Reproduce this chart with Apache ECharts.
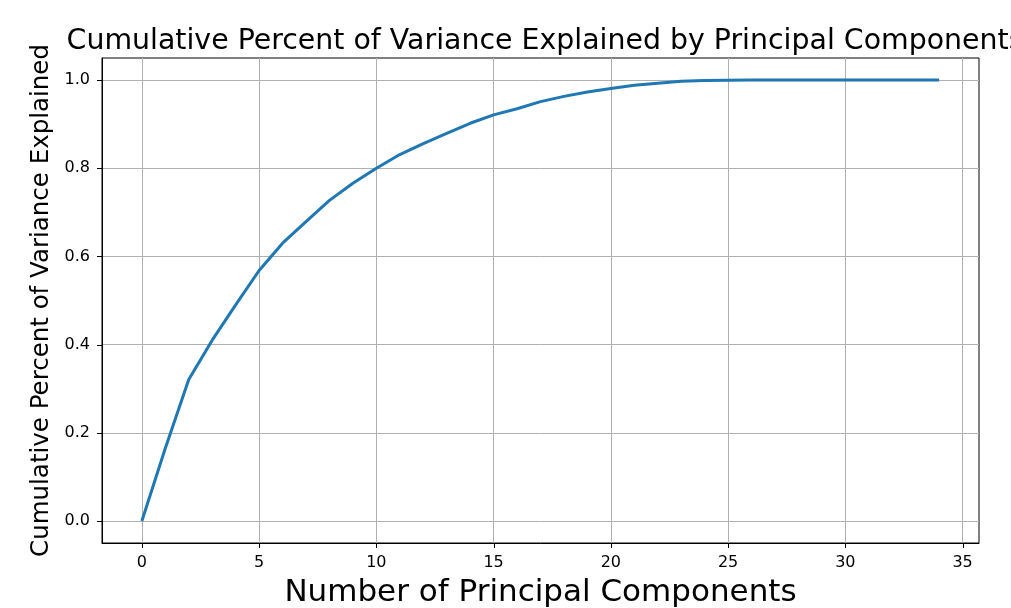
<!DOCTYPE html>
<html>
<head>
<meta charset="utf-8">
<script src="https://cdn.jsdelivr.net/npm/echarts@6/dist/echarts.min.js"></script>
<style>
  html, body { margin: 0; padding: 0; background: #fff; }
  #chart { width: 1011px; height: 608px; }
</style>
</head>
<body>
<div id="chart"></div>
<script>
// number of principal components (x) and cumulative explained variance (y)
const components = [0, 1, 2, 3, 4, 5, 6, 7, 8, 9, 10, 11, 12, 13, 14, 15, 16, 17,
  18, 19, 20, 21, 22, 23, 24, 25, 26, 27, 28, 29, 30, 31, 32, 33, 34]
const cumulativeVariance = [0, 0.165, 0.321, 0.41, 0.49, 0.568, 0.63, 0.679, 0.727,
  0.766, 0.80, 0.831, 0.856, 0.879, 0.902, 0.921, 0.935, 0.951, 0.963, 0.973, 0.981,
  0.988, 0.993, 0.997, 0.999, 0.9995, 1.0, 1.0, 1.0, 1.0, 1.0, 1.0, 1.0, 1.0, 1.0]
const xTicks = [0, 5, 10, 15, 20, 25, 30, 35]
const yTicks = [0, 0.2, 0.4, 0.6, 0.8, 1.0]

const xMin = -1.7
const xMax = 35.7
const yMin = -0.05
const yMax = 1.05
const tickLen = 5

const font = 'DejaVu Sans'
const chart = echarts.init(document.getElementById('chart'))

// outward tick marks, placed through the axis scales
const crisp = v => Math.round(v) + 0.5
const xTickItem = (params, api) => {
  const p = api.coord([api.value(0), yMin])
  const x = crisp(p[0])
  return {
    type: 'line',
    shape: { x1: x, y1: p[1], x2: x, y2: p[1] + tickLen },
    style: { stroke: '#000', lineWidth: 1 }
  }
}
const yTickItem = (params, api) => {
  const p = api.coord([xMin, api.value(1)])
  const y = crisp(p[1])
  return {
    type: 'line',
    shape: { x1: p[0] - tickLen, y1: y, x2: p[0], y2: y },
    style: { stroke: '#000', lineWidth: 1 }
  }
}

const option = {
  backgroundColor: '#fff',
  animation: false,
  title: {
    text: 'Cumulative Percent of Variance Explained by Principal Components',
    left: 540,
    textAlign: 'center',
    top: 23,
    textStyle: { fontFamily: font, fontSize: 28.4, fontWeight: 'normal', color: '#000' }
  },
  grid: {
    left: 102,
    right: 32,
    top: 58,
    bottom: 65,
    outerBoundsMode: 'none',
    show: true,
    borderColor: '#000',
    borderWidth: 1,
    backgroundColor: 'transparent'
  },
  xAxis: {
    type: 'value',
    min: xMin,
    max: xMax,
    name: 'Number of Principal Components',
    nameLocation: 'middle',
    nameGap: 34,
    nameTextStyle: { fontFamily: font, fontSize: 31, color: '#000' },
    axisLine: { show: true, onZero: false, lineStyle: { color: '#000', width: 1 } },
    axisTick: { show: false, customValues: xTicks },
    axisLabel: { customValues: xTicks, fontFamily: font, fontSize: 16, color: '#000', margin: 12 },
    splitLine: { show: true, lineStyle: { color: '#b0b0b0', width: 1 } }
  },
  yAxis: {
    type: 'value',
    min: yMin,
    max: yMax,
    name: 'Cumulative Percent of Variance Explained',
    nameLocation: 'middle',
    nameGap: 47,
    nameTextStyle: { fontFamily: font, fontSize: 24.5, color: '#000' },
    axisLine: { show: true, onZero: false, lineStyle: { color: '#000', width: 1 } },
    axisTick: { show: false, customValues: yTicks },
    axisLabel: {
      customValues: yTicks,
      fontFamily: font,
      fontSize: 16,
      color: '#000',
      margin: 12,
      formatter: v => v.toFixed(1)
    },
    splitLine: { show: true, lineStyle: { color: '#b0b0b0', width: 1 } }
  },
  series: [
    {
      type: 'line',
      data: components.map((c, i) => [c, cumulativeVariance[i]]),
      showSymbol: false,
      lineStyle: { color: '#1f77b4', width: 3 },
      z: 3
    },
    {
      type: 'custom',
      clip: false,
      silent: true,
      data: xTicks.map(v => [v, yMin]),
      renderItem: xTickItem,
      z: 5
    },
    {
      type: 'custom',
      clip: false,
      silent: true,
      data: yTicks.map(v => [xMin, v]),
      renderItem: yTickItem,
      z: 5
    }
  ]
}

chart.setOption(option)

// backup tick marks as graphic elements, positioned with the chart's own scales
const tickGraphics = []
xTicks.forEach(v => {
  const p = chart.convertToPixel({ gridIndex: 0 }, [v, yMin])
  const x = crisp(p[0])
  tickGraphics.push({
    type: 'line', silent: true, z: 10,
    shape: { x1: x, y1: p[1], x2: x, y2: p[1] + tickLen },
    style: { stroke: '#000', lineWidth: 1 }
  })
})
yTicks.forEach(v => {
  const p = chart.convertToPixel({ gridIndex: 0 }, [xMin, v])
  const y = crisp(p[1])
  tickGraphics.push({
    type: 'line', silent: true, z: 10,
    shape: { x1: p[0] - tickLen, y1: y, x2: p[0], y2: y },
    style: { stroke: '#000', lineWidth: 1 }
  })
})
chart.setOption({ graphic: { elements: tickGraphics } })
</script>
</body>
</html>
